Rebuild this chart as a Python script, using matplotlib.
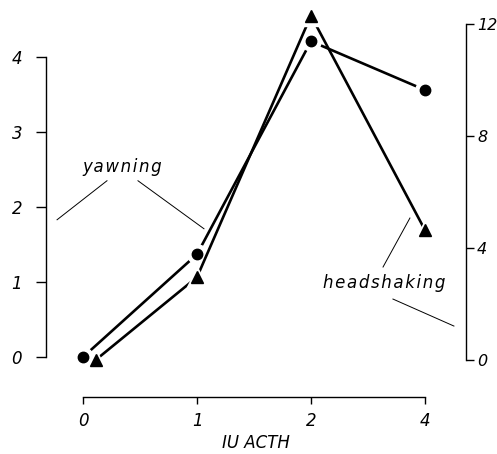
import matplotlib
matplotlib.use('Agg')
import matplotlib.pyplot as plt
import numpy as np

# IU ACTH dose groups (plotted as equally spaced categories)
doses = ['0', '1', '2', '4']
yawning = [0.0, 1.37, 4.21, 3.56]        # left axis
headshaking = [0.0, 2.96, 12.3, 4.64]    # right axis

plt.rcParams['font.family'] = ['DejaVu Sans']
plt.rcParams['font.style'] = 'italic'
plt.rcParams['font.size'] = 12

fig = plt.figure(figsize=(4.97, 4.54), dpi=100)
ax = fig.add_axes([46 / 497, 1 - 397 / 454, 420 / 497, 373 / 454])
ax2 = ax.twinx()

x = np.arange(len(doses))
tri_x = x.astype(float)
tri_x[0] += 0.11   # shift first triangle so it sits beside the circle

ax.set_xlim(-0.325, 3.36)
ax.set_ylim(-0.533, 4.44)
ax2.set_ylim(-1.32, 12.0)

# lines first, then white halos, then the black markers on top
ax.plot(x, yawning, color='black', lw=1.9, zorder=1, clip_on=False)
ax2.plot(tri_x, headshaking, color='black', lw=1.9, zorder=1, clip_on=False)
ax.plot(x, yawning, 'o', color='white', ms=14, zorder=2, clip_on=False)
ax2.plot(tri_x, headshaking, '^', color='white', ms=15, zorder=2, clip_on=False)
ax.plot(x, yawning, 'o', color='black', ms=7.5, zorder=3, clip_on=False)
ax2.plot(tri_x, headshaking, '^', color='black', ms=8, zorder=3, clip_on=False)

for a in (ax, ax2):
    a.spines['top'].set_visible(False)
    for s in a.spines.values():
        s.set_linewidth(1.0)
ax.spines['right'].set_visible(False)
ax2.spines['left'].set_visible(False)
ax2.spines['bottom'].set_visible(False)

ax.set_yticks([0, 1, 2, 3, 4])
ax.spines['left'].set_bounds(0, 4)
ax.tick_params(axis='y', direction='out', length=7.2, width=1.0, pad=10)

ax2.set_yticks([0, 4, 8, 12])
ax2.spines['right'].set_bounds(0, 12)
ax2.tick_params(axis='y', direction='out', length=6.0, width=1.0, pad=2,
                labelsize=11.5)

ax.set_xticks(x)
ax.set_xticklabels(doses)
ax.spines['bottom'].set_bounds(0, 3)
ax.tick_params(axis='x', direction='out', length=5, width=1.0, pad=6)
ax.set_xlabel('IU ACTH', labelpad=3)

# labels with leader lines
ax.text(0.347, 2.53, 'y\u200aa\u200aw\u200an\u200ai\u200an\u200ag', ha='center', va='center')
ax.plot([0.21, -0.228], [2.35, 1.83], color='black', lw=0.7, clip_on=False)
ax.plot([0.482, 1.061], [2.35, 1.71], color='black', lw=0.7, clip_on=False)

ax.text(2.645, 0.987, 'h\u200ae\u200aa\u200ad\u200as\u200ah\u200aa\u200ak\u200ai\u200an\u200ag',
        ha='center', va='center')
ax.plot([2.632, 2.868], [1.2, 1.853], color='black', lw=0.7, clip_on=False)
ax.plot([2.719, 3.254], [0.773, 0.413], color='black', lw=0.7, clip_on=False)

plt.savefig('out.png', dpi=100)
